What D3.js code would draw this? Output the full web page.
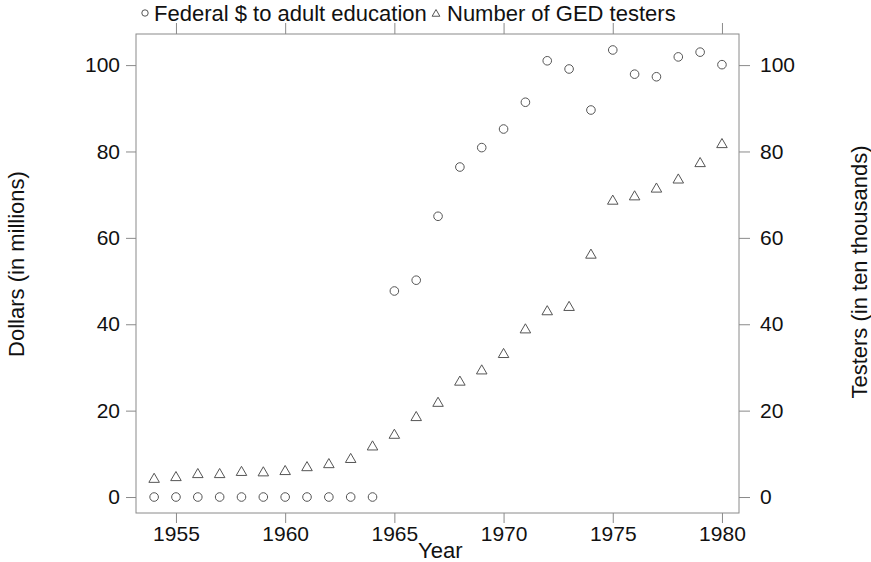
<!DOCTYPE html>
<html>
<head>
<meta charset="utf-8">
<script src="https://cdn.jsdelivr.net/npm/d3@7"></script>
<style>
  body { margin: 0; background: #fff; }
  svg { display: block; font-family: "Liberation Sans", Arial, sans-serif; }
</style>
</head>
<body>
<div id="chart"></div>
<script>
const years = d3.range(1954, 1981);
// Federal $ to adult education (millions)
const federalDollars = [0, 0, 0, 0, 0, 0, 0, 0, 0, 0, 0,
  47.7, 50.2, 65.0, 76.4, 80.9, 85.2, 91.4, 101.0, 99.1, 89.6,
  103.5, 97.9, 97.3, 101.9, 103.0, 100.1];
// Number of GED testers (ten thousands)
const gedTesters = [4.1, 4.5, 5.2, 5.2, 5.7, 5.6, 5.9, 6.8, 7.5, 8.7, 11.6,
  14.3, 18.4, 21.7, 26.6, 29.2, 33.0, 38.7, 42.9, 43.9, 56.0,
  68.5, 69.5, 71.3, 73.4, 77.2, 81.6];
const xTicks = [1955, 1960, 1965, 1970, 1975, 1980];
const yTicks = [0, 20, 40, 60, 80, 100];
const legendLabels = ['Federal $ to adult education', 'Number of GED testers'];

const width = 871, height = 562;
const margin = { top: 34, right: 132, bottom: 49, left: 136 };
const w = width - margin.left - margin.right;
const h = height - margin.top - margin.bottom;
const tickFont = 21;
const titleFont = 22;
const lineColor = '#8a8a8a';
const markColor = '#555';
const textColor = '#111';

const x = d3.scaleLinear().domain([1953.17, 1980.78]).range([0, w]);
const y = d3.scaleLinear().domain([-3.7, 107.2]).range([h, 0]);

const svg = d3.select('#chart').append('svg')
  .attr('width', width)
  .attr('height', height);

const g = svg.append('g').attr('transform', `translate(${margin.left},${margin.top})`);

function styleAxis(sel) {
  sel.attr('font-family', null).attr('font-size', tickFont);
  sel.select('.domain').remove();
  sel.selectAll('.tick line').attr('stroke', lineColor);
  sel.selectAll('.tick text').attr('fill', textColor);
}

// Axes
g.append('g')
  .attr('transform', `translate(0,${h})`)
  .call(d3.axisBottom(x).tickValues(xTicks).tickSize(10).tickPadding(3).tickFormat(d3.format('d')))
  .call(styleAxis);

g.append('g')
  .call(d3.axisTop(x).tickValues(xTicks).tickSize(11).tickFormat(''))
  .call(styleAxis);

g.append('g')
  .call(d3.axisLeft(y).tickValues(yTicks).tickSize(10).tickPadding(6))
  .call(styleAxis);

g.append('g')
  .attr('transform', `translate(${w},0)`)
  .call(d3.axisRight(y).tickValues(yTicks).tickSize(11).tickPadding(10))
  .call(styleAxis);

// Frame
g.append('rect')
  .attr('width', w)
  .attr('height', h)
  .attr('fill', 'none')
  .attr('stroke', lineColor)
  .attr('stroke-width', 1);

// Circles: federal dollars
g.selectAll('.fed')
  .data(years.map((yr, i) => ({ yr, v: federalDollars[i] })))
  .join('circle')
  .attr('class', 'fed')
  .attr('cx', d => x(d.yr))
  .attr('cy', d => y(d.v))
  .attr('r', 4.3)
  .attr('fill', 'none')
  .attr('stroke', markColor)
  .attr('stroke-width', 1);

// Triangles: GED testers
const tri = d3.symbol().type(d3.symbolTriangle).size(48);
g.selectAll('.ged')
  .data(years.map((yr, i) => ({ yr, v: gedTesters[i] })))
  .join('path')
  .attr('class', 'ged')
  .attr('transform', d => `translate(${x(d.yr)},${y(d.v)})`)
  .attr('d', tri)
  .attr('fill', 'none')
  .attr('stroke', markColor)
  .attr('stroke-width', 1);

// Axis titles
svg.append('text')
  .attr('x', margin.left + x(1967.1))
  .attr('y', 558)
  .attr('text-anchor', 'middle')
  .attr('font-size', titleFont)
  .attr('fill', textColor)
  .text('Year');

svg.append('text')
  .attr('transform', 'translate(24,264) rotate(-90)')
  .attr('text-anchor', 'middle')
  .attr('font-size', titleFont)
  .attr('fill', textColor)
  .text('Dollars (in millions)');

svg.append('text')
  .attr('transform', 'translate(867,272) rotate(-90)')
  .attr('text-anchor', 'middle')
  .attr('font-size', titleFont)
  .attr('fill', textColor)
  .text('Testers (in ten thousands)');

// Legend
const legend = svg.append('g');
legend.append('circle')
  .attr('cx', 145).attr('cy', 13).attr('r', 3.2)
  .attr('fill', 'none').attr('stroke', markColor);
legend.append('text')
  .attr('x', 154).attr('y', 21)
  .attr('font-size', titleFont).attr('fill', textColor)
  .text(legendLabels[0]);
legend.append('path')
  .attr('transform', 'translate(436,14)')
  .attr('d', d3.symbol().type(d3.symbolTriangle).size(26))
  .attr('fill', 'none').attr('stroke', markColor);
legend.append('text')
  .attr('x', 447).attr('y', 21)
  .attr('font-size', titleFont).attr('fill', textColor)
  .text(legendLabels[1]);
</script>
</body>
</html>
